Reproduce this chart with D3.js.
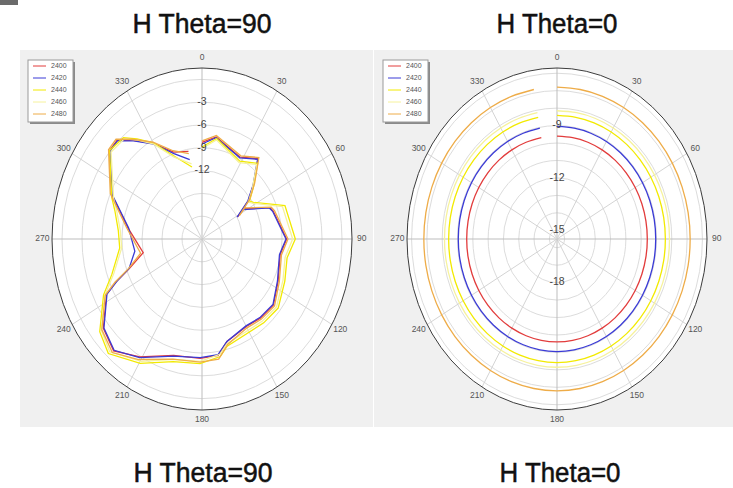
<!DOCTYPE html>
<html>
<head>
<meta charset="utf-8">
<script src="https://cdn.jsdelivr.net/npm/d3@7"></script>
<style>
body { margin: 0; background: #fff; }
svg { display: block; font-family: "Liberation Sans", Arial, sans-serif; }
</style>
</head>
<body>
<div id="chart"></div>
<script>
let dim = { 'width': 733, 'height': 488 };

let svg = d3.select('#chart').append('svg')
    .attr('width', dim.width)
    .attr('height', dim.height);

// series names + colours
const freqs = ['2400', '2420', '2440', '2460', '2480'];
const lineColors = ['#e23c3c', '#3a3ad6', '#f2ea00', '#f6f29c', '#eeac48'];

const titles = ['H Theta=90', 'H Theta=0'];
const angleTicks = [0, 30, 60, 90, 120, 150, 180, 210, 240, 270, 300, 330];

// H Theta=90 : [angle, dB]
const h90Rings = [0, -3, -6, -9, -12, -15, -18];
const h90Labels = [-3, -6, -9, -12];
const h90_2400 = [[0,-8.3],[9,-7.4],[28,-8.8],[38.5,-7.5],[47,-10.4],[54,-12.4],[61.3,-14.9],[57.5,-13.6],[68,-10.0],[71,-9.7],[90,-8.3],[100,-9.1],[116,-8.3],[129,-7.2],[140,-7.4],[150,-7.7],[164.5,-7.0],[171,-5.5],[181,-5.3],[195.5,-5.1],[211,-2.9],[222,-1.2],[231.5,-2.1],[243,-4.9],[246.5,-7.0],[250.5,-9.5],[258.5,-12.0],[277.5,-9.8],[293.5,-6.2],[310,-2.9],[315.5,-2.8],[321.5,-4.4],[330,-6.5],[339.5,-8.8],[350,-9.3]];
const h90_2420 = [[0,-8.5],[9,-7.5],[28,-8.9],[38.5,-7.6],[47,-10.5],[54,-12.5],[61.3,-15.0],[57.5,-13.8],[68,-10.1],[71,-9.8],[90,-8.4],[100,-9.2],[116,-8.4],[129,-7.3],[140,-7.5],[150,-7.8],[164.5,-7.0],[171,-5.6],[181,-5.4],[195.5,-5.0],[211,-2.8],[222,-1.3],[231.5,-2.2],[243,-5.0],[246.5,-7.1],[250.5,-9.4],[261,-10.8],[277.5,-9.9],[293.5,-6.3],[310,-3.0],[315.5,-2.9],[321.5,-4.5],[330,-6.6],[339.5,-9.0],[350,-10.4]];
const h90_2440 = [[0,-8.9],[9.5,-7.6],[29,-9.3],[40,-8.0],[48.5,-10.7],[55,-12.3],[58,-11.9],[70.5,-7.8],[90,-7.0],[101,-8.0],[114,-7.4],[128.5,-6.4],[140,-6.6],[165,-6.4],[170,-5.3],[181,-4.6],[195,-4.3],[209.5,-2.2],[223,-0.4],[231.5,-1.4],[243.5,-4.5],[251,-6.7],[264.5,-8.6],[275,-8.4],[286,-7.4],[292,-6.4],[310,-2.9],[318.5,-3.2],[323.5,-4.6],[330,-6.4],[338.5,-9.2],[351,-11.4]];
const h90_2460 = [[0,-9.1],[9.5,-7.8],[29,-9.5],[40,-8.2],[48.5,-10.9],[55,-12.5],[58,-12.1],[70.5,-8.2],[90,-7.4],[101,-8.3],[114,-7.7],[128.5,-6.7],[140,-6.9],[165,-6.7],[170,-5.6],[181,-4.9],[195,-4.6],[209.5,-2.5],[223,-0.7],[231.5,-1.7],[243.5,-4.8],[251,-7.0],[264.5,-8.9],[275,-8.7],[286,-7.7],[292,-6.7],[310,-3.2],[318.5,-3.4],[323.5,-4.8],[330,-6.6],[338.5,-9.4],[351,-11.0]];
const h90_2480 = [[0,-8.1],[9,-7.2],[28,-8.6],[38.5,-7.3],[47,-10.2],[54,-12.2],[61.3,-14.6],[57.5,-13.4],[68,-9.8],[71,-9.5],[90,-8.1],[100,-8.9],[116,-8.1],[129,-7.0],[140,-7.2],[150,-7.5],[164.5,-6.6],[171,-5.0],[181,-4.8],[195.5,-4.6],[211,-2.5],[222,-0.9],[231.5,-1.8],[243,-4.7],[246.5,-6.8],[250.5,-9.3],[258.5,-11.6],[277.5,-9.6],[293.5,-6.0],[310,-2.7],[315.5,-2.6],[321.5,-4.2],[330,-6.3],[339.5,-8.6],[350,-9.6]];

// H Theta=0 : angles + dB per series
const h0Rings = [-6, -7, -8, -9, -10, -11, -12, -13, -14, -15];
const h0Labels = [-9, -12, -15, -18];
const h0Angles = [0,10,20,30,40,50,60,70,80,90,100,110,120,130,140,150,160,170,180,190,200,210,220,230,240,250,260,270,280,290,300,310,320,330,340,350];
const h0_2400 = [-9.6,-9.6,-9.6,-9.6,-9.6,-9.6,-9.6,-9.6,-9.6,-9.6,-9.6,-9.6,-9.6,-9.6,-9.6,-9.6,-9.6,-9.6,-9.6,-9.6,-9.6,-9.6,-9.6,-9.6,-9.6,-9.6,-9.6,-9.6,-9.6,-9.6,-9.6,-9.6,-9.6,-9.6,-9.6,-9.6];
const h0_2420 = [-9.05,-9.05,-9.05,-9.05,-9.05,-9.05,-9.05,-9.05,-9.05,-9.05,-9.05,-9.05,-9.05,-9.05,-9.05,-9.05,-9.05,-9.05,-9.05,-9.05,-9.05,-9.05,-9.05,-9.05,-9.05,-9.05,-9.05,-9.05,-9.05,-9.05,-9.05,-9.05,-9.05,-9.05,-9.05,-9.05];
const h0_2440 = [-8.42,-8.42,-8.42,-8.42,-8.42,-8.42,-8.42,-8.42,-8.42,-8.42,-8.42,-8.42,-8.42,-8.42,-8.42,-8.42,-8.42,-8.42,-8.42,-8.42,-8.42,-8.42,-8.42,-8.42,-8.42,-8.42,-8.42,-8.42,-8.42,-8.42,-8.42,-8.42,-8.42,-8.42,-8.42,-8.42];
const h0_2460 = [-8.15,-8.15,-8.15,-8.15,-8.15,-8.15,-8.15,-8.15,-8.15,-8.15,-8.15,-8.15,-8.15,-8.15,-8.15,-8.15,-8.15,-8.15,-8.15,-8.15,-8.15,-8.15,-8.15,-8.15,-8.15,-8.15,-8.15,-8.15,-8.15,-8.15,-8.15,-8.15,-8.15,-8.15,-8.15,-8.15];
const h0_2480 = [-6.8,-6.8,-6.8,-6.8,-6.8,-6.8,-6.8,-6.8,-6.8,-6.8,-6.8,-6.8,-6.8,-6.8,-6.8,-6.8,-6.8,-6.8,-6.8,-6.8,-6.8,-6.8,-6.8,-6.8,-6.8,-6.8,-6.8,-6.8,-6.8,-6.8,-6.8,-6.8,-6.8,-6.8,-6.8,-6.8];

let colors = d3.scaleOrdinal().domain(freqs).range(lineColors);

// little dark tab in the top-left corner
svg.append('rect').attr('x', 0).attr('y', 0).attr('width', 18).attr('height', 5).attr('fill', '#6b6b6b');

// grey panels
svg.append('rect').attr('x', 20).attr('y', 50).attr('width', 353).attr('height', 377).attr('fill', '#f0f0f0');
svg.append('rect').attr('x', 374).attr('y', 50).attr('width', 359).attr('height', 377).attr('fill', '#f0f0f0');

let panels = [
    {
        title: titles[0], cx: 202, cy: 239, tx: 202, btx: 203, titleLen: 139,
        legendX: 28, domain: [-21, 1.5], rings: h90Rings, labels: h90Labels,
        curve: d3.curveLinear,
        series: [h90_2400, h90_2420, h90_2440, h90_2460, h90_2480].map((s, i) => ({
            name: freqs[i], pts: s.map(p => ({ a: p[0], v: p[1] }))
        }))
    },
    {
        title: titles[1], cx: 557, cy: 239, tx: 557, btx: 560, titleLen: 121,
        legendX: 383, domain: [-15.5, -5.7], rings: h0Rings, labels: h0Labels,
        curve: d3.curveNatural,
        series: [h0_2400, h0_2420, h0_2440, h0_2460, h0_2480].map((s, i) => ({
            name: freqs[i], pts: s.map((v, j) => ({ a: h0Angles[j], v: v }))
        }))
    }
];

const RX = 150, RY = 171;
const kx = RX / RY;
const rad = a => a * Math.PI / 180;

panels.forEach(p => drawPolar(p));

function drawPolar(p) {
    let g = svg.append('g');
    let rScale = d3.scaleLinear().domain(p.domain).range([0, RY]);
    let px = (a, r) => p.cx + r * kx * Math.sin(rad(a));
    let py = (a, r) => p.cy - r * Math.cos(rad(a));

    // plot area
    g.append('ellipse')
        .attr('cx', p.cx).attr('cy', p.cy)
        .attr('rx', RX).attr('ry', RY)
        .attr('fill', '#fff');

    // rings
    g.selectAll('.ring')
        .data(p.rings)
        .join('ellipse')
        .attr('class', 'ring')
        .attr('cx', p.cx).attr('cy', p.cy)
        .attr('rx', d => rScale(d) * kx)
        .attr('ry', d => rScale(d))
        .attr('fill', 'none')
        .attr('stroke', '#dcdcdc')
        .attr('stroke-width', 1);

    // spokes
    g.selectAll('.spoke')
        .data(angleTicks)
        .join('line')
        .attr('class', 'spoke')
        .attr('x1', p.cx).attr('y1', p.cy)
        .attr('x2', d => px(d, RY)).attr('y2', d => py(d, RY))
        .attr('stroke', d => d % 90 == 0 ? '#bdbdbd' : '#d4d4d4')
        .attr('stroke-width', 1);

    // angle labels
    g.selectAll('.alabel')
        .data(angleTicks)
        .join('text')
        .attr('class', 'alabel')
        .attr('x', d => px(d, RY + 11))
        .attr('y', d => py(d, RY + 10))
        .attr('text-anchor', 'middle')
        .attr('dominant-baseline', 'middle')
        .attr('font-size', 8.5)
        .attr('fill', '#555')
        .text(d => d);

    // series
    let line = d3.line()
        .x(d => px(d.a, rScale(d.v)))
        .y(d => py(d.a, rScale(d.v)))
        .curve(p.curve);

    g.selectAll('.series')
        .data(p.series)
        .join('path')
        .attr('class', 'series')
        .attr('d', d => line(d.pts))
        .attr('fill', 'none')
        .attr('stroke', d => colors(d.name))
        .attr('stroke-width', 1.3);

    // radial labels on the 0 axis
    g.selectAll('.rlabel')
        .data(p.labels)
        .join('text')
        .attr('class', 'rlabel')
        .attr('x', p.cx)
        .attr('y', d => p.cy - rScale(d))
        .attr('text-anchor', 'middle')
        .attr('dominant-baseline', 'middle')
        .attr('font-size', 10.5)
        .attr('fill', '#444')
        .text(d => d);

    // outer border
    g.append('ellipse')
        .attr('cx', p.cx).attr('cy', p.cy)
        .attr('rx', RX).attr('ry', RY)
        .attr('fill', 'none')
        .attr('stroke', '#3c3c3c')
        .attr('stroke-width', 1);

    // legend
    let lg = g.append('g').attr('transform', `translate(${p.legendX},60)`);
    lg.append('rect').attr('x', 2).attr('y', 2).attr('width', 45).attr('height', 62).attr('fill', '#8a8a8a');
    lg.append('rect').attr('x', 0).attr('y', 0).attr('width', 45).attr('height', 62)
        .attr('fill', '#fff').attr('stroke', '#9a9a9a');
    let items = lg.selectAll('.item')
        .data(freqs)
        .join('g')
        .attr('class', 'item')
        .attr('transform', (d, i) => `translate(0,${6 + i * 12})`);
    items.append('line')
        .attr('x1', 5).attr('x2', 18)
        .attr('stroke', d => colors(d))
        .attr('stroke-width', 1);
    items.append('text')
        .attr('x', 23)
        .attr('dominant-baseline', 'middle')
        .attr('font-size', 7)
        .attr('fill', '#555')
        .text(d => d);

    // titles (top and bottom)
    [33, 482].forEach((y, i) => {
        svg.append('text')
            .attr('x', i == 0 ? p.tx : p.btx)
            .attr('y', y)
            .attr('text-anchor', 'middle')
            .attr('font-size', 27)
            .attr('textLength', p.titleLen)
            .attr('lengthAdjust', 'spacingAndGlyphs')
            .attr('fill', '#111')
            .attr('stroke', '#111')
            .attr('stroke-width', 0.5)
            .text(p.title);
    });
}
</script>
</body>
</html>
